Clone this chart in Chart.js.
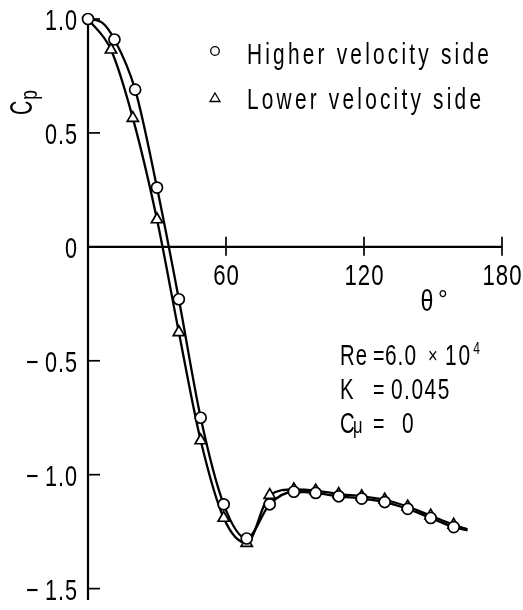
<!DOCTYPE html>
<html>
<head>
<meta charset="utf-8">
<script src="https://cdn.jsdelivr.net/npm/chart.js@4/dist/chart.umd.min.js"></script>
<style>
  html, body { margin: 0; padding: 0; background: #fff; }
  canvas { display: block; }
</style>
</head>
<body>
<canvas id="cp" width="523" height="610" style="width:523px;height:610px"></canvas>
<script>
// Pressure coefficient around the cylinder, angle θ in degrees
const thetaHigh = [0, 11.5, 20.5, 30, 39.5, 49, 59, 69, 79, 89.5, 99, 109, 119, 129, 139, 149, 159];
const cpHigh    = [1.0, 0.91, 0.69, 0.26, -0.23, -0.75, -1.13, -1.28, -1.13, -1.075, -1.08, -1.095, -1.105, -1.12, -1.15, -1.19, -1.23];

const thetaLow  = [10, 19.5, 30, 39.5, 49, 59, 69, 79, 89.5, 99, 109, 119, 129, 139, 149, 159];
const cpLow     = [0.865, 0.565, 0.12, -0.375, -0.85, -1.19, -1.30, -1.09, -1.065, -1.07, -1.085, -1.095, -1.11, -1.14, -1.18, -1.22];

// Faired curves through each set of measurements
const curveHighTheta = [0, 6, 11.5, 20.5, 30, 39.5, 49, 59, 69, 79, 89.5, 99, 109, 119, 129, 139, 149, 159, 165];
const curveHighCp    = [1.0, 0.985, 0.91, 0.69, 0.26, -0.23, -0.75, -1.13, -1.28, -1.13, -1.075, -1.08, -1.095, -1.105, -1.12, -1.15, -1.19, -1.23, -1.245];
const curveLowTheta  = [0, 10, 19.5, 30, 39.5, 49, 59, 69, 79, 89.5, 99, 109, 119, 129, 139, 149, 159, 165];
const curveLowCp     = [1.0, 0.865, 0.565, 0.12, -0.375, -0.85, -1.19, -1.30, -1.09, -1.065, -1.07, -1.085, -1.095, -1.11, -1.14, -1.18, -1.22, -1.24];

const xTicks = [60, 120, 180];
const xTickLabels = ['60', '120', '180'];
const yTicks = [1.0, 0.5, 0, -0.5, -1.0, -1.5];
const yTickLabels = ['1.0', '0.5', '0', '\u2212\u20090.5', '\u2212\u20091.0', '\u2212\u20091.5'];

const seriesNames = ['Higher velocity side', 'Lower velocity side'];

const pts = (xs, ys) => xs.map((x, i) => ({ x: x, y: ys[i] }));

const FONT = '"Liberation Sans", Arial, sans-serif';

// Draws condensed text one glyph at a time with extra tracking
function drawText(ctx, str, x, y, size, sx, spacing, align) {
  ctx.font = size + 'px ' + FONT;
  const chars = Array.from(str);
  const widths = chars.map(c => ctx.measureText(c).width * sx);
  const total = widths.reduce((a, b) => a + b, 0) + spacing * (chars.length - 1);
  let cx = align === 'right' ? x - total : align === 'center' ? x - total / 2 : x;
  chars.forEach((c, i) => {
    ctx.save();
    ctx.translate(cx, y);
    ctx.scale(sx, 1);
    ctx.fillText(c, 0, 0);
    ctx.restore();
    cx += widths[i] + spacing;
  });
  return cx;
}

const axesPlugin = {
  id: 'axesPlugin',
  beforeDatasetsDraw(chart) {
    const ctx = chart.ctx;
    const xs = chart.scales.x, ys = chart.scales.y;
    const x0 = xs.getPixelForValue(0);
    const y0 = ys.getPixelForValue(0);
    ctx.save();
    ctx.strokeStyle = '#000';
    ctx.lineWidth = 2.2;
    ctx.lineCap = 'butt';
    // vertical axis
    ctx.beginPath();
    ctx.moveTo(x0, ys.getPixelForValue(1.0));
    ctx.lineTo(x0, ys.getPixelForValue(ys.min));
    ctx.stroke();
    // horizontal axis at Cp = 0
    ctx.beginPath();
    ctx.moveTo(x0, y0);
    ctx.lineTo(xs.getPixelForValue(180), y0);
    ctx.stroke();
    // y ticks point inward
    ctx.lineWidth = 1.7;
    yTicks.forEach(v => {
      const y = ys.getPixelForValue(v);
      ctx.beginPath();
      ctx.moveTo(x0, y);
      ctx.lineTo(x0 + 12, y);
      ctx.stroke();
    });
    // x ticks cross the axis
    xTicks.forEach(v => {
      const x = xs.getPixelForValue(v);
      ctx.beginPath();
      ctx.moveTo(x, y0 - 10);
      ctx.lineTo(x, y0 + 9);
      ctx.stroke();
    });
    ctx.restore();
  },
  afterDraw(chart) {
    const ctx = chart.ctx;
    const xs = chart.scales.x, ys = chart.scales.y;
    const x0 = xs.getPixelForValue(0);
    const y0 = ys.getPixelForValue(0);
    ctx.save();
    ctx.fillStyle = '#000';
    ctx.textBaseline = 'alphabetic';
    ctx.textAlign = 'left';

    // tick labels
    yTicks.forEach((v, i) => {
      drawText(ctx, yTickLabels[i], x0 - 11, ys.getPixelForValue(v) + 11, 30, 0.72, 1, 'right');
    });
    xTicks.forEach((v, i) => {
      drawText(ctx, xTickLabels[i], xs.getPixelForValue(v), y0 + 38, 30, 0.74, 1, 'center');
    });

    // axis titles
    drawText(ctx, '\u03B8', 427, 311, 29, 0.8, 0, 'center');
    drawText(ctx, '\u00B0', 438, 309, 27, 0.9, 0, 'left');

    ctx.save();
    ctx.translate(32, 115);
    ctx.rotate(-Math.PI / 2);
    let cx = drawText(ctx, 'C', 0, 0, 31, 0.64, 0, 'left');
    drawText(ctx, 'p', cx + 1, 5, 24, 0.72, 0, 'left');
    ctx.restore();

    // legend
    ctx.strokeStyle = '#000';
    ctx.lineWidth = 1.3;
    ctx.beginPath();
    ctx.arc(215, 51, 4.3, 0, Math.PI * 2);
    ctx.stroke();
    ctx.beginPath();
    ctx.moveTo(215, 93);
    ctx.lineTo(220, 101.5);
    ctx.lineTo(210, 101.5);
    ctx.closePath();
    ctx.stroke();
    drawText(ctx, seriesNames[0], 247, 64, 29, 0.72, 3.2, 'left');
    drawText(ctx, seriesNames[1], 247, 109, 29, 0.72, 3.2, 'left');

    // flow conditions
    drawText(ctx, 'Re', 340, 365, 29, 0.7, 1, 'left');
    drawText(ctx, '=', 373, 365, 28, 0.7, 0, 'left');
    drawText(ctx, '6.0', 385, 365, 29, 0.72, 1, 'left');
    drawText(ctx, '\u00D7', 428, 363, 22, 0.75, 0, 'left');
    cx = drawText(ctx, '10', 445, 365, 29, 0.72, 2, 'left');
    drawText(ctx, '4', cx + 1, 354, 16, 0.75, 0, 'left');

    drawText(ctx, 'K', 340, 399, 29, 0.7, 0, 'left');
    drawText(ctx, '=', 373, 399, 28, 0.7, 0, 'left');
    drawText(ctx, '0.045', 391, 399, 29, 0.72, 1.5, 'left');

    drawText(ctx, 'C', 340, 433, 29, 0.7, 0, 'left');
    drawText(ctx, '\u03BC', 353, 433, 22, 0.75, 0, 'left');
    drawText(ctx, '=', 373, 433, 28, 0.7, 0, 'left');
    drawText(ctx, '0', 402, 433, 29, 0.72, 0, 'left');

    ctx.restore();
  }
};

new Chart(document.getElementById('cp'), {
  type: 'scatter',
  data: {
    datasets: [
      {
        label: seriesNames[0],
        data: pts(thetaHigh, cpHigh),
        showLine: false,
        pointStyle: 'circle',
        pointRadius: 5.5,
        pointBackgroundColor: '#fff',
        pointBorderColor: '#000',
        pointBorderWidth: 1.7,
        order: 0,
        clip: false
      },
      {
        label: seriesNames[1],
        data: pts(thetaLow, cpLow),
        showLine: false,
        pointStyle: 'triangle',
        pointRadius: 6.5,
        pointBackgroundColor: '#fff',
        pointBorderColor: '#000',
        pointBorderWidth: 1.7,
        order: 1,
        clip: false
      },
      {
        label: 'curve-high',
        data: pts(curveHighTheta, curveHighCp),
        showLine: true,
        pointRadius: 0,
        borderColor: '#000',
        borderWidth: 2.3,
        cubicInterpolationMode: 'monotone',
        order: 2,
        clip: false
      },
      {
        label: 'curve-low',
        data: pts(curveLowTheta, curveLowCp),
        showLine: true,
        pointRadius: 0,
        borderColor: '#000',
        borderWidth: 2.3,
        cubicInterpolationMode: 'monotone',
        order: 3,
        clip: false
      }
    ]
  },
  options: {
    responsive: false,
    animation: false,
    devicePixelRatio: 1,
    layout: { padding: { left: 88, right: 21, top: 19, bottom: 10 } },
    plugins: { legend: { display: false }, tooltip: { enabled: false } },
    scales: {
      x: { type: 'linear', min: 0, max: 180, display: false },
      y: { type: 'linear', min: -1.55, max: 1.0, display: false }
    }
  },
  plugins: [axesPlugin]
});
</script>
</body>
</html>
